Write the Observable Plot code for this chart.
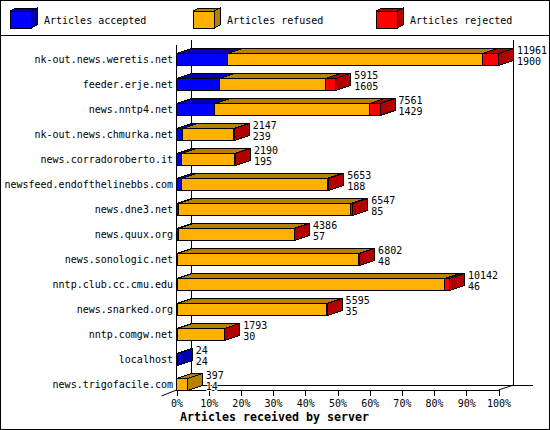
<!DOCTYPE html>
<html>
<head>
<meta charset="utf-8">
<script src="https://cdn.jsdelivr.net/npm/d3@7"></script>
<script src="https://cdn.jsdelivr.net/npm/@observablehq/plot@0.6"></script>
<style>
html,body{margin:0;padding:0;background:#fff;}
#chart{position:relative;width:550px;height:430px;overflow:hidden;background:#fff;
  font-family:"DejaVu Sans Mono",monospace;font-size:10px;color:#000;}
#frame{position:absolute;inset:0;border:1px solid #000;box-sizing:border-box;pointer-events:none;z-index:3;}
#legend{position:absolute;left:0;top:0;width:550px;height:36px;border-bottom:1px solid #000;box-sizing:border-box;}
.item{position:absolute;top:0;height:35px;}
.item svg{position:absolute;left:0;top:0;shape-rendering:crispEdges;}
.item span{position:absolute;left:34px;top:14px;white-space:pre;line-height:13px;}
#plot{position:absolute;left:0;top:36px;}
#plot svg{shape-rendering:crispEdges;background:transparent;}
</style>
</head>
<body>
<div id="chart"><div id="legend"></div><div id="plot"></div><div id="frame"></div></div>
<script>
const servers = ["nk-out.news.weretis.net","feeder.erje.net","news.nntp4.net","nk-out.news.chmurka.net",
  "news.corradoroberto.it","newsfeed.endofthelinebbs.com","news.dne3.net","news.quux.org",
  "news.sonologic.net","nntp.club.cc.cmu.edu","news.snarked.org","nntp.comgw.net","localhost","news.trigofacile.com"];
const totals   = [11961,5915,7561,2147,2190,5653,6547,4386,6802,10142,5595,1793,24,397];
const accepted = [1900,1605,1429,239,195,188,85,57,48,46,35,30,24,14];
const rejected = [595,387,398,15,30,60,70,20,25,170,8,5,0,0];
const maxTotal = 11961;
const percentTicks = [0,10,20,30,40,50,60,70,80,90,100];
const seriesNames = ["Articles accepted","Articles refused","Articles rejected"];
const seriesColors = ["#0000ff","#ffb000","#ff0000"];
const seriesShades = ["#0000b0","#b88000","#b00000"];
const legendLeft = [10,193,376];

// legend
seriesNames.forEach((name,i)=>{
  const item = d3.select("#legend").append("div").attr("class","item").style("left",legendLeft[i]+"px").style("width","160px");
  const s = item.append("svg").attr("width",30).attr("height",35);
  s.append("polygon").attr("points","21,11 27,8 27,25 21,28").attr("fill",seriesShades[i]).attr("stroke","#000");
  s.append("polygon").attr("points","0,11 6,8 27,8 21,11").attr("fill",seriesShades[i]).attr("stroke","#000");
  s.append("rect").attr("x",0.5).attr("y",11.5).attr("width",20.5).attr("height",17).attr("fill",seriesColors[i]).attr("stroke","#000");
  item.append("span").text(name);
});

// segments of each stacked bar
const segments = [];
servers.forEach((server,r)=>{
  const refused = totals[r]-accepted[r]-rejected[r];
  let start = 0;
  [accepted[r],refused,rejected[r]].forEach((v,k)=>{
    if (v>0) segments.push({server,k,x1:start,x2:start+v,last:start+v===totals[r]});
    start += v;
  });
});
const rows = servers.map((server,r)=>({server,total:totals[r],accepted:accepted[r]}));

const depthX = 15, depthY = 5, faceH = 12, rowH = 25;

// wireframe of the 3-D box
function wire(index,{x},values,{width,height,marginBottom}){
  const g = d3.create("svg:g").attr("stroke","#000").attr("fill","none");
  const bottom = height-marginBottom, x0=x(0), x1=x(maxTotal), top=bottom-345;
  const line=(a,b,c,d)=>g.append("line").attr("x1",a).attr("y1",b).attr("x2",c).attr("y2",d);
  line(x0,top,x0,bottom);
  line(x0+depthX,top-depthY,x0+depthX,bottom-depthY);
  line(x1+depthX,top-depthY,x1+depthX,bottom-depthY);
  line(x0+depthX,bottom-depthY,x1+depthX+19,bottom-depthY);
  line(x0,bottom,x1,bottom);
  g.append("path").attr("shape-rendering","auto").attr("d",`M${x0-15},${bottom+6}L${x0},${bottom}L${x0+depthX},${bottom-depthY}M${x1},${bottom}L${x1+depthX},${bottom-depthY}`);
  return g.node();
}
// top and side faces of the bars
function faces(index,{x,y}){
  const g = d3.create("svg:g").attr("stroke","#000");
  for (const s of segments){
    const t = y(s.server)+rowH/2-faceH/2, b=t+faceH, a=x(s.x1), c=x(s.x2);
    g.append("polygon").attr("fill",seriesShades[s.k])
      .attr("points",`${a},${t} ${a+depthX},${t-depthY} ${c+depthX},${t-depthY} ${c},${t}`);
    if (s.last) g.append("polygon").attr("fill",seriesShades[s.k])
      .attr("points",`${c},${t} ${c+depthX},${t-depthY} ${c+depthX},${b-depthY} ${c},${b}`);
  }
  return g.node();
}

const chart = Plot.plot({
  width:550, height:394,
  marginLeft:176.5, marginRight:51.5, marginTop:9, marginBottom:40,
  style:{fontFamily:'"DejaVu Sans Mono",monospace',fontSize:"10px",color:"#000",background:"transparent",overflow:"visible"},
  x:{domain:[0,maxTotal]},
  y:{type:"band",domain:servers,range:[10.8,360.8],padding:0},
  marks:[
    wire,
    faces,
    Plot.rect(segments,{x1:"x1",x2:"x2",y:"server",fill:d=>seriesColors[d.k],stroke:"#000",insetTop:6.5,insetBottom:6.5}),
    Plot.axisY({anchor:"left",tickSize:0,tickPadding:4,label:null,fontSize:10}),
    Plot.axisX({anchor:"bottom",ticks:percentTicks.map(p=>p*maxTotal/100),tickFormat:d=>Math.round(d/maxTotal*100)+"%",tickSize:6,tickPadding:3,label:null,fontSize:10}),
    Plot.text(rows,{x:"total",y:"server",text:d=>String(d.total),dx:18,dy:-9.5,textAnchor:"start",fontSize:10,fill:"#000",stroke:"#fff",strokeWidth:2}),
    Plot.text(rows,{x:"total",y:"server",text:d=>String(d.accepted),dx:18,dy:1.5,textAnchor:"start",fontSize:10,fill:"#000",stroke:"#fff",strokeWidth:2}),
    Plot.text(["Articles received by server"],{frameAnchor:"bottom-left",dx:97.5,dy:30,textAnchor:"middle",fontSize:11.63,fontWeight:"bold",fill:"#000"})
  ]
});
document.getElementById("plot").appendChild(chart);
</script>
</body>
</html>
